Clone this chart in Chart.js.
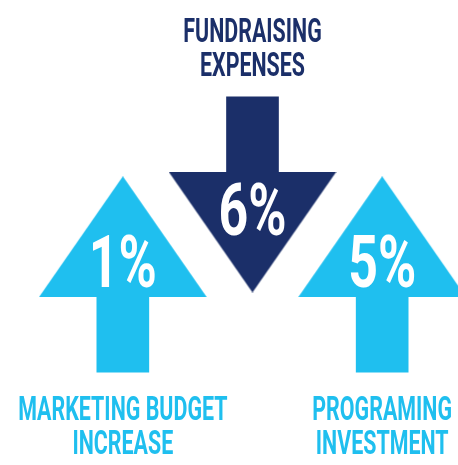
<!DOCTYPE html>
<html>
<head>
<meta charset="utf-8">
<script src="https://cdn.jsdelivr.net/npm/chart.js@4/dist/chart.umd.min.js"></script>
<style>
html, body { margin: 0; padding: 0; background: #fff; }
#arrows { display: block; }
</style>
</head>
<body>
<canvas id="arrows" width="458" height="465"></canvas>
<script>
var categories = [["MARKETING BUDGET", "INCREASE"], ["FUNDRAISING", "EXPENSES"], ["PROGRAMING", "INVESTMENT"]];
var changes = [1, 6, 5];
var directions = ["up", "down", "up"];

var lightBlue = "#1fbfef";
var navy = "#1b2f69";
var fontFamily = "Roboto, 'Liberation Sans', sans-serif";
var titleSqueeze = 0.63;
var pctSqueeze = 0.72;

// arrow layout on the hidden y scale (0 = bottom of canvas)
var shape = {
    up:   { shaft: [86, 176], head: 228, pct: 50, title: 48 },
    down: { shaft: [284, 375], head: 233, pct: 3, title: -21 }
};
var headW = 168, headH = 121, lineGap = 34;

var colors = directions.map(function (d) { return d === "up" ? lightBlue : navy; });

function makeHead(color) {
    var c = document.createElement("canvas");
    c.width = headW;
    c.height = headH;
    var g = c.getContext("2d");
    g.fillStyle = color;
    g.beginPath();
    g.moveTo(headW / 2, 0);
    g.lineTo(headW, headH);
    g.lineTo(0, headH);
    g.closePath();
    g.fill();
    return c;
}
var heads = colors.map(makeHead);

function squeezedText(ctx, text, x, y, k) {
    ctx.save();
    ctx.translate(x, y);
    ctx.scale(k, 1);
    ctx.fillText(text, 0, 0);
    ctx.restore();
}

//labels: percent inside the head, category text at the shaft end
var arrowText = {
    id: "arrowText",
    afterDatasetsDraw: function (chart) {
        var ctx = chart.ctx;
        var yScale = chart.scales.y;
        var points = chart.getDatasetMeta(0).data;
        ctx.save();
        ctx.textAlign = "center";
        ctx.textBaseline = "alphabetic";
        points.forEach(function (pt, i) {
            var s = shape[directions[i]];
            ctx.fillStyle = "#fff";
            ctx.font = "bold 72px " + fontFamily;
            squeezedText(ctx, changes[i] + "%", pt.x, pt.y + s.pct, pctSqueeze);

            var lines = categories[i];
            ctx.fillStyle = colors[i];
            ctx.font = "bold 34px " + fontFamily;
            lines.forEach(function (line, k) {
                var by;
                if (directions[i] === "up") {
                    by = yScale.getPixelForValue(s.shaft[0]) + s.title + k * lineGap;
                } else {
                    by = yScale.getPixelForValue(s.shaft[1]) + s.title - (lines.length - 1 - k) * lineGap;
                }
                squeezedText(ctx, line, pt.x, by, titleSqueeze);
            });
        });
        ctx.restore();
    }
};

new Chart(document.getElementById("arrows"), {
    type: "bar",
    data: {
        labels: categories,
        datasets: [{
            type: "line",
            label: "head",
            data: directions.map(function (d) { return shape[d].head; }),
            showLine: false,
            pointStyle: function (c) { return heads[c.dataIndex]; },
            rotation: function (c) { return directions[c.dataIndex] === "up" ? 0 : 180; },
            pointRadius: 10,
            clip: false,
            order: 0
        }, {
            label: "shaft",
            data: directions.map(function (d) { return shape[d].shaft; }),
            backgroundColor: colors,
            barThickness: 52,
            borderWidth: 0,
            order: 1
        }]
    },
    options: {
        responsive: false,
        animation: false,
        events: [],
        layout: { padding: { left: 58, right: 9, top: 0, bottom: 0 } },
        plugins: {
            legend: { display: false },
            tooltip: { enabled: false }
        },
        scales: {
            x: { display: false, offset: true },
            y: { display: false, min: 0, max: 465 }
        }
    },
    plugins: [arrowText]
});
</script>
</body>
</html>
